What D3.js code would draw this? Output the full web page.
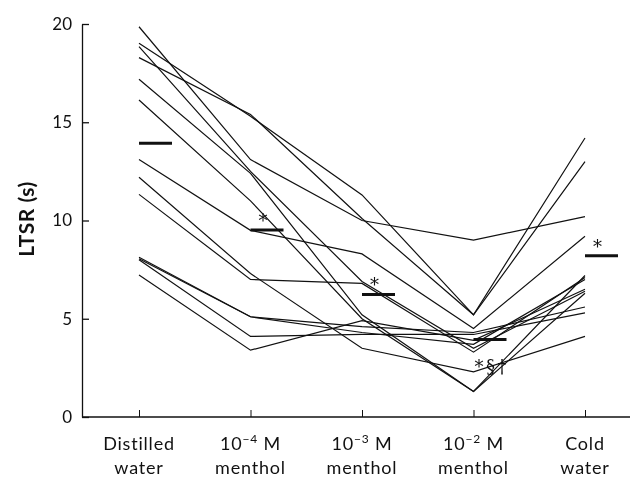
<!DOCTYPE html>
<html>
<head>
<meta charset="utf-8">
<script src="https://cdn.jsdelivr.net/npm/d3@7"></script>
<style>
  body { margin: 0; background: #fff; }
  svg { will-change: transform; }
  svg text { font-family: Lato, "Open Sans", sans-serif; fill: #111; }
</style>
</head>
<body>
<svg id="chart" width="632" height="478"></svg>
<script>
// conditions along the x axis
let conditions = ['dw', 'm4', 'm3', 'm2', 'cw'];
// label text: [base, superscript, rest] for first line, then second line
let labelTop = [['Distilled', '', ''], ['10', '\u22124', ' M'], ['10', '\u22123', ' M'], ['10', '\u22122', ' M'], ['Cold', '', '']];
let labelBottom = ['water', 'menthol', 'menthol', 'menthol', 'water'];

// LTSR (s) of each subject, one value per condition
let subjects = [
  [19.86, 13.1, 10.0, 9.0, 10.2],
  [19.02, 15.3, 11.3, 5.2, 14.2],
  [18.29, 15.4, 10.1, 5.2, 13.0],
  [18.85, 12.5, 6.9, 3.5, 6.4],
  [17.19, 12.4, 5.2, 1.3, 7.2],
  [16.13, 11.0, 5.0, 1.3, 6.3],
  [13.11, 9.5, 8.3, 4.5, 9.2],
  [12.2, 7.3, 3.5, 2.3, 4.1],
  [11.33, 7.0, 6.8, 3.3, 7.1],
  [8.13, 5.1, 4.6, 4.3, 5.6],
  [8.05, 5.1, 4.3, 3.7, 7.0],
  [8.0, 4.1, 4.2, 4.2, 5.3],
  [7.23, 3.4, 4.9, 3.9, 6.5]
];

// group means and significance marks
let means = [13.93, 9.52, 6.24, 3.95, 8.2];
let marks = ['', '*', '*', '*\u00a7\u2020', '*'];
let yTicks = [0, 5, 10, 15, 20];

let svg = d3.select('#chart');

let x = d3.scalePoint()
  .domain(conditions)
  .range([139, 585]);

let y = d3.scaleLinear()
  .domain([0, 20])
  .range([417, 24]);

// subject lines
let lineFn = d3.line()
  .x((d, i) => x(conditions[i]))
  .y(d => y(d));

svg.append('g')
  .selectAll('path')
  .data(subjects)
  .join('path')
  .attr('d', d => lineFn(d))
  .style('fill', 'none')
  .style('stroke', '#111')
  .style('stroke-width', 1.2);

// mean bars
svg.append('g')
  .selectAll('line')
  .data(means)
  .join('line')
  .attr('x1', (d, i) => x(conditions[i]))
  .attr('x2', (d, i) => x(conditions[i]) + 33)
  .attr('y1', d => y(d))
  .attr('y2', d => y(d))
  .style('stroke', '#111')
  .style('stroke-width', 3);

svg.append('g')
  .selectAll('text')
  .data(marks)
  .join('text')
  .attr('x', (d, i) => i == 3 ? x(conditions[i]) + 1 : x(conditions[i]) + 8)
  .attr('y', (d, i) => i == 3 ? y(means[i]) + 34 : y(means[i]) - 3)
  .style('font-family', '"DejaVu Serif", serif')
  .style('font-size', '18px')
  .style('letter-spacing', '2.5px')
  .style('fill', '#111')
  .text(d => d);

// y axis, ticks pointing into the plot
let yAxis = d3.axisLeft(y)
  .tickValues(yTicks)
  .tickSizeInner(-7)
  .tickSizeOuter(0)
  .tickPadding(10);
let gy = svg.append('g').attr('transform', 'translate(82, 0)').call(yAxis);
gy.selectAll('text').style('font-size', '17px').style('font-family', 'Lato, sans-serif');
gy.selectAll('line, path').style('stroke', '#111').style('stroke-width', 1.3);

// x axis line across the whole width
svg.append('line')
  .attr('x1', 82).attr('x2', 630)
  .attr('y1', y(0)).attr('y2', y(0))
  .style('stroke', '#111')
  .style('stroke-width', 1.3);

let xAxis = d3.axisBottom(x).tickSize(-7).tickFormat('');
let gx = svg.append('g').attr('transform', 'translate(0,' + y(0) + ')').call(xAxis);
gx.select('.domain').remove();
gx.selectAll('line').style('stroke', '#111');

// category labels
let labels = svg.append('g')
  .selectAll('text.top')
  .data(labelTop)
  .join('text')
  .attr('x', (d, i) => x(conditions[i]))
  .attr('y', 450)
  .attr('text-anchor', 'middle')
  .style('font-size', '18px')
  .style('letter-spacing', '0.8px');
labels.append('tspan').text(d => d[0]);
labels.append('tspan').text(d => d[1]).attr('dy', -7).style('font-size', '12px');
labels.append('tspan').text(d => d[2]).attr('dy', d => d[1] ? 7 : 0);

svg.append('g')
  .selectAll('text')
  .data(labelBottom)
  .join('text')
  .attr('x', (d, i) => x(conditions[i]))
  .attr('y', 474)
  .attr('text-anchor', 'middle')
  .style('font-size', '18px')
  .style('letter-spacing', '0.8px')
  .text(d => d);

svg.append('text')
  .attr('transform', 'translate(34, 219) rotate(-90)')
  .attr('text-anchor', 'middle')
  .style('font-size', '21px')
  .style('font-weight', 'bold')
  .style('letter-spacing', '0.5px')
  .text('LTSR (s)');
</script>
</body>
</html>
